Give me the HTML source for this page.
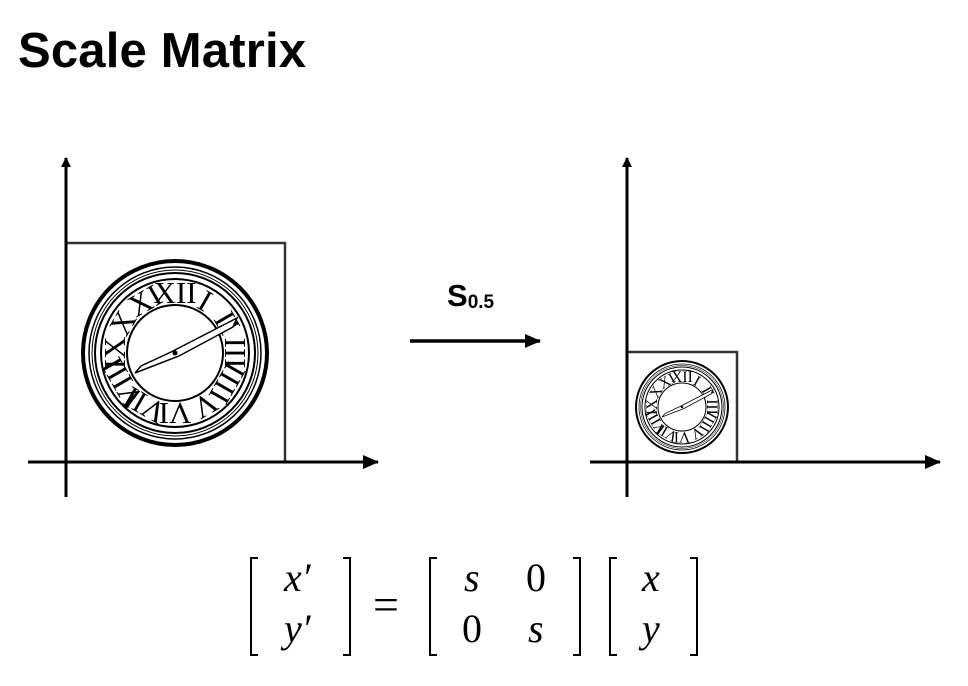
<!DOCTYPE html>
<html><head><meta charset="utf-8"><style>
html,body{margin:0;padding:0;background:#fff;width:968px;height:686px;overflow:hidden}
svg{display:block}
</style></head><body>
<svg id="s" width="968" height="686" viewBox="0 0 968 686" xmlns="http://www.w3.org/2000/svg">
<text x="18" y="67" font-family="Liberation Sans, sans-serif" font-weight="bold" font-size="49" textLength="288" fill="#000">Scale Matrix</text>
<defs>
<marker id="ah" markerWidth="10" markerHeight="10" refX="9" refY="5" orient="auto" markerUnits="userSpaceOnUse"><path d="M0,0 L10,5 L0,10 z" fill="#000"/></marker>
<marker id="ah2" markerWidth="16" markerHeight="14" refX="15" refY="7" orient="auto" markerUnits="userSpaceOnUse"><path d="M0,0 L16,7 L0,14 z" fill="#000"/></marker>
<g id="clock" fill="none" stroke="#000"></g>
</defs>
<g>
<rect x="66" y="243" width="219" height="219" fill="none" stroke="#333" stroke-width="2.5"/>
<use href="#clock" transform="translate(175,353)"/>
<line x1="28" y1="462" x2="378" y2="462" stroke="#000" stroke-width="3" marker-end="url(#ah2)"/>
<line x1="66" y1="497" x2="66" y2="158" stroke="#000" stroke-width="3" marker-end="url(#ah)"/>
</g>
<g>
<line x1="410" y1="341" x2="540" y2="341" stroke="#000" stroke-width="3.5" marker-end="url(#ah2)"/>
<text x="447" y="306" font-family="Liberation Sans, sans-serif" font-weight="bold" font-size="31">S<tspan font-size="19" dy="2">0.5</tspan></text>
</g>
<g>
<rect x="627" y="352" width="110" height="110" fill="none" stroke="#333" stroke-width="2.5"/>
<use href="#clock" transform="translate(682,407) scale(0.5)"/>
<line x1="590" y1="462" x2="940" y2="462" stroke="#000" stroke-width="3" marker-end="url(#ah2)"/>
<line x1="627" y1="497" x2="627" y2="158" stroke="#000" stroke-width="3" marker-end="url(#ah)"/>
</g>
<g font-family="Liberation Serif, serif" font-size="40" fill="#000" stroke="none">
<path d="M258,558 H251 V655 H258 M343,558 H350 V655 H343" fill="none" stroke="#000" stroke-width="2"/>
<text x="284" y="591" font-style="italic">x′</text>
<text x="284" y="642" font-style="italic">y′</text>
<text x="373" y="620" font-size="46">=</text>
<path d="M437,558 H430 V655 H437 M573,558 H580 V655 H573" fill="none" stroke="#000" stroke-width="2"/>
<text x="464" y="591" font-style="italic">s</text>
<text x="526" y="591">0</text>
<text x="462" y="642">0</text>
<text x="528" y="642" font-style="italic">s</text>
<path d="M617,558 H610 V655 H617 M690,558 H697 V655 H690" fill="none" stroke="#000" stroke-width="2"/>
<text x="642" y="591" font-style="italic">x</text>
<text x="642" y="642" font-style="italic">y</text>
</g>
</svg>
<script>
const NS="http://www.w3.org/2000/svg";
const c=document.getElementById('clock');
function add(tag,attrs){const e=document.createElementNS(NS,tag);for(const k in attrs)e.setAttribute(k,attrs[k]);c.appendChild(e);return e;}
add('circle',{r:92,'stroke-width':4});
add('circle',{r:86,'stroke-width':1.5});
add('circle',{r:83,'stroke-width':1});
add('circle',{r:80,'stroke-width':2});
add('circle',{r:74,'stroke-width':2});
add('circle',{r:48,'stroke-width':2});
const nums=["XII","I","II","III","IIII","V","VI","VII","VIII","IX","X","XI"];
for(let i=0;i<12;i++){
 const a=i*30;
 const t=add('text',{x:0,y:-50,'text-anchor':'middle','font-family':'Liberation Serif, serif','font-size':31,fill:'#000',stroke:'none',transform:'rotate('+a+')'});
 t.textContent=nums[i];
}
add('polygon',{points:"-4,-1 62,-35 58,-26 4,3 -40,20 -34,13",fill:'#fff','stroke-width':1.5});
add('circle',{r:2,fill:'#000'});
</script>
</body></html>
